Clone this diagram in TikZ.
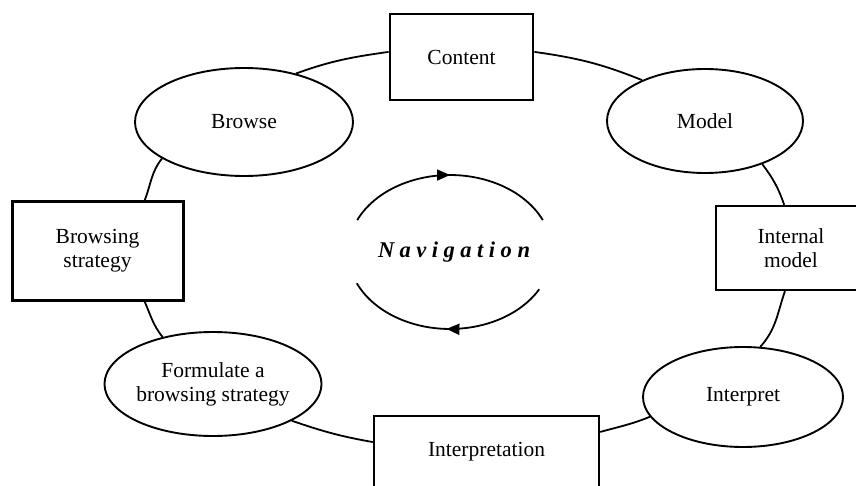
\documentclass[tikz,border=0pt]{standalone}
\usepackage{fontspec}
\setmainfont{Liberation Serif}
\usetikzlibrary{shapes.geometric,arrows.meta,decorations.markings}

\newcommand{\spacedword}{N\kern5.5pt a\kern5.5pt v\kern5.5pt i\kern5.5pt g\kern5.5pt a\kern5.5pt t\kern5.5pt i\kern5.5pt o\kern5.5pt n}

\tikzset{
  label font/.style={font=\fontsize{21.5}{24}\selectfont},
  stepbox/.style={draw, rectangle, line width=2.4pt, inner sep=0pt, align=center, label font},
  activity/.style={draw, ellipse, line width=1.9pt, inner sep=0pt, align=center, label font},
  ring/.style={line width=1.8pt},
  cycle/.style={line width=1.8pt, postaction={decorate},
    decoration={markings, mark=at position 0.5 with {\arrow{Triangle[length=13pt,width=11pt]}}}}
}

\begin{document}
\begin{tikzpicture}[x=1pt,y=1pt]
  \clip (0,0) rectangle (856,485);

  % stages of the navigation cycle
  \node[stepbox, minimum width=143pt, minimum height=86pt, line width=2.8pt] (content) at (461.5,428) {Content};
  \node[activity, minimum width=196pt, minimum height=104pt] (model) at (705,364) {Model};
  \node[stepbox, minimum width=150pt, minimum height=84pt] (imodel) at (791,237) {Internal\\model};
  \node[activity, minimum width=200pt, minimum height=100pt] (interpret) at (743,88) {Interpret};
  \node[stepbox, minimum width=225pt, minimum height=72pt] (interp) at (486.5,33) {Interpretation};
  \node[activity, minimum width=214pt, minimum height=104pt] (formulate) at (213,101) {Formulate a\\browsing strategy};
  \node[stepbox, minimum width=171pt, minimum height=98pt, line width=3pt] (bstrat) at (97.5,234) {Browsing\\strategy};
  \node[activity, minimum width=218pt, minimum height=108pt] (browse) at (244,363) {Browse};

  % ring connecting the stages
  \draw[ring] (content.176) to[out=188,in=20] (browse.43);
  \draw[ring] (browse.204) to[out=232,in=68.5] (bstrat.47);
  \draw[ring] (bstrat.313) to[out=294,in=129] (formulate.137.5);
  \draw[ring] (formulate.335.5) to[out=341,in=170] (interp.175.4);
  \draw[ring] (interp.10) to[out=15.5,in=202] (interpret.192);
  \draw[ring] (interpret.71) to[out=48,in=251] (imodel.262);
  \draw[ring] (imodel.99.5) to[out=109,in=307] (model.323.6);
  \draw[ring] (model.147) to[out=158,in=352] (content.4);

  % central label with the circulating arrows
  \node[font=\fontsize{22.5}{24}\selectfont\bfseries\itshape] (nav) at (454,233) {\spacedword};
  \coordinate (navtop) at (357.2,264.9);
  \coordinate (navbot) at (539.2,195.7);
  \draw[cycle] (navtop) arc[start angle=155.5, end angle=24.5, x radius=102pt, y radius=77pt];
  \draw[cycle] (navbot) arc[start angle=-29, end angle=-156, x radius=102pt, y radius=77pt];
\end{tikzpicture}
\end{document}
